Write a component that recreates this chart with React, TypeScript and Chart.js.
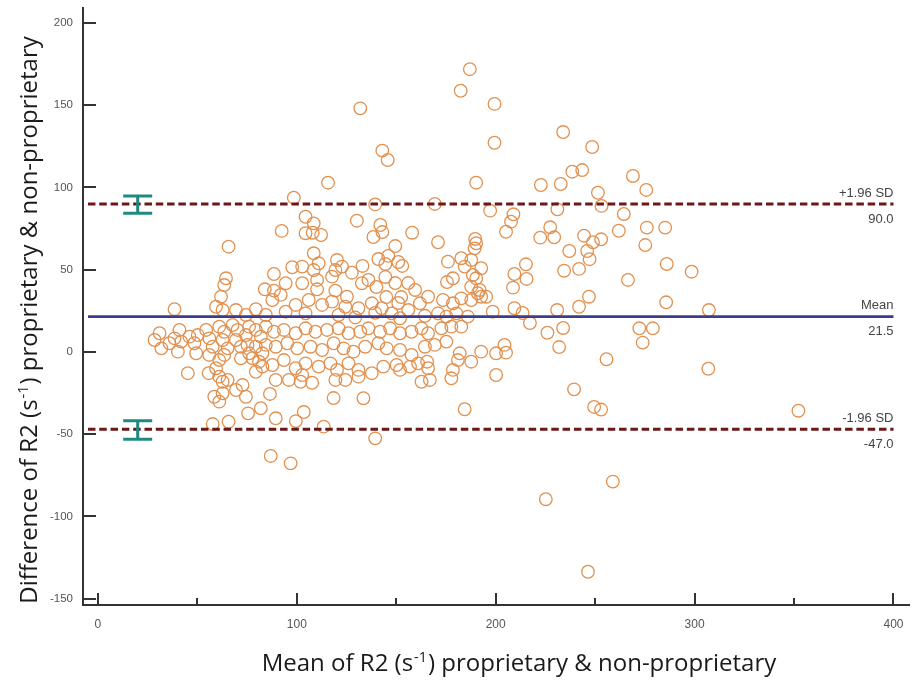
import React, { useEffect, useRef } from "react";
import { Chart, registerables } from "chart.js";

Chart.register(...registerables);

// Mean of the two methods (x) for each sample
const meanValues: number[] = [
  187, 182.4, 199.4, 131.9, 143, 145.7, 199.4, 233.9, 248.5, 190.2, 222.7, 232.7, 238.5, 243.5, 251.4,
  269, 275.7, 115.7, 98.5, 139.4, 169.4, 197.2, 231, 253.2, 264.4, 261.9, 276, 285.2, 275.2, 253,
  286, 298.5, 266.5, 285.7, 307.2, 272.2, 279, 273.9, 255.7, 306.9, 253, 352.2, 258.9, 246.4, 225.2,
  142, 143, 138.5, 158, 171, 189.7, 190.2, 189.4, 208.9, 207.7, 205.2, 222.4, 227.4, 229.4, 244.4,
  248.9, 237, 246, 247.2, 234.4, 241.9, 215.2, 209.4, 215.5, 208.7, 246.9, 241.9, 230.9, 209.4, 213.5,
  217.2, 226, 233.9, 231.9,
  149.5, 146, 151, 153, 141, 144.5, 133,
  176, 182.7, 187.7, 184.4, 192.7, 188.5, 178.5, 175.5, 190.2, 187.7, 191.9, 192.7,
  239.4, 249.5, 184.4, 200.2, 204.4, 200.2, 205.2, 192.7, 187.7, 181.9, 181, 178.5, 177.7,
  166, 173.5, 178.5, 182.7, 187.7, 191, 195.2, 198.5, 186, 180.2, 175.2, 171,
  166, 172.7, 177.7, 182.7, 175.2, 169.4, 165.5, 166.9,
  133.5, 137.7, 131, 151.9, 162.7, 156.9, 139.4,
  104.4, 108.5, 104.4, 108, 112.2, 130.2, 92.4, 65.7, 108.5, 97.7, 102.7, 111, 120.2, 122.7, 127.7,
  88.5, 94.4, 102.7, 110.2, 117.7, 64.4, 63.5, 83.9, 88.5, 91.9, 110.2, 119.4, 125.2, 132.7, 61.9, 38.5,
  119.4, 108.5, 136, 140, 144.5, 149.5, 156, 159.5, 152.5, 145, 151,
  87.7, 99.4, 106, 112.7, 117.7, 124.4, 131, 137.7, 142.7, 147.7, 156, 161.9, 94.4, 104.4, 121, 129.4,
  139.4, 151.9, 164.4,
  88.5, 93.5, 99.4, 104.4, 109.4, 115.2, 121, 126, 131.9, 136, 141.9, 146.9, 151.9, 157.7, 162.7,
  89.4, 95.2, 100.2, 106.9, 112.7, 118.5, 123.5, 128.5, 134.4, 141, 145.2, 151.9, 157.7, 164.4,
  87.7, 93.5, 99.4, 104.4, 111, 116.9, 120.2, 126, 131, 143.5, 150.2, 161, 166,
  89.4, 96, 101.9, 107.7, 119.4, 124.4,
  102.7, 79.4, 82.7, 58.5, 62.7, 72.7, 69.4, 74.4, 57.7, 65.7, 75.5, 81.9, 86.5, 89.4, 99.5, 103.5,
  86.9, 96.9, 113.5, 118.5,
  59.4, 62.7, 69.4, 74.4, 79.4, 84.4, 31, 28.5, 31.9, 36, 41, 38.5, 41.9, 40.2, 46, 50.2, 48.5, 49.4,
  54.4, 56, 57.7, 56, 61, 63.5, 62.7, 65.2, 63.5, 61, 67.7, 70.2, 74.4, 76, 69.4, 71.9, 75.2, 76,
  71.9, 77.7, 79.4, 84.4, 81.9, 84.4, 79.4, 82.7, 81, 45.2, 55.7, 59.4, 61, 62.7, 65.2, 61,
];

// Difference between the two methods (y) for each sample
const diffValues: number[] = [
  171.9, 158.8, 150.8, 148.1, 122.4, 116.7, 127.2, 133.7, 124.6, 102.9, 101.5, 102.1, 109.6, 110.6, 96.8,
  107, 98.5, 102.9, 93.8, 89.7, 90, 85.9, 86.7, 88.8, 83.9, 73.7, 75.6, 75.6, 65, 68.5,
  53.5, 48.8, 43.8, 30.2, 25.5, 14.4, 14.4, 5.7, -4.4, -10.2, -35, -35.7, -78.8, -133.6, -89.5,
  77.2, 72.9, 69.9, 72.5, 66.7, 68.7, 66.1, 63, 83.7, 79.2, 73.1, 69.5, 75.8, 69.7, 70.7,
  66.7, 61.4, 61.4, 56.4, 49.4, 50.5, 53.3, 47.4, 44.4, 39.1, 33.6, 27.5, 25.5, 26.6, 23.7,
  17.6, 11.7, 14.6, 3,
  64.4, 58.4, 54.7, 52.3, 56.5, 53.5, 52.3,
  54.9, 57, 55.9, 51.9, 50.9, 46.8, 44.8, 42.5, 44.8, 39.7, 37.7, 33.6,
  -22.7, -33.4, -34.8, -14, 4.3, -0.8, -0.4, 0.2, -5.9, -0.8, -4.9, -10.9, -16,
  33.6, 31.6, 29.6, 32.6, 31.6, 35.7, 33.6, 24.5, 21.5, 23.5, 21.5, 23.5,
  11.4, 14.4, 15.4, 15.4, 6.3, 4.3, -5.9, -17,
  -28.1, -12.9, -15, -10.9, -18.1, -8.9, -52.5,
  82.2, 78.2, 72.2, 72.5, 71.1, 79.8, 73.6, 64, 60, 51.5, 51.9, 53.9, 55.9, 51.9, 48.2,
  47.4, 41.8, 41.8, 43.8, 45.8, 44.8, 40.7, 38.1, 37.3, 34.7, 38.1, 37.3, 33.6, 41.8, 33.6, 26,
  49.8, 49.8, 43.8, 39.5, 45.6, 41.9, 41.9, 37.7, 33.4, 33.4, 29.8,
  31.6, 28.6, 31.6, 28.6, 30.6, 27.5, 26.6, 29.6, 26.6, 23.5, 25.5, 29.6, 24.5, 23.5, 22.5, 21,
  23.8, 20.5, 22,
  12.3, 13.4, 11.4, 14.4, 12.3, 13.4, 14.4, 11.4, 12.3, 14.4, 12.3, 14.4, 11.4, 12.3, 14.4,
  3.2, 5.3, 2.2, 3.2, 1.2, 5.3, 2.2, 0.2, 3.2, 5.3, 2.2, 1.2, -1.8, 3.2,
  -7.9, -4.9, -9.9, -6.9, -8.9, -6.9, -10.9, -6.9, -10.9, -8.9, -7.9, -6.9, -9.9,
  -17, -17, -18.1, -18.7, -17, -17,
  -14, -12, -8.9, -27.2, -25.1, -20.1, -23.1, -27.2, -43.8, -42.4, -37.3, -34.2, -25.5, -40.3, -42, -36.5,
  -63.2, -67.7, -45.4, -28,
  27.5, 25.5, 25.5, 22.5, 26, 22.5, 11.4, 7.3, 2.2, 5.3, 13.4, 8.3, 6.3, 0.2, 9.3, 10.3, 5.3, -0.8,
  13.4, 8.3, 3.2, -1.8, 15.4, 12.3, 7.3, 2.2, -1.8, -4.9, 16.4, 13.4, 10.3, 15.4, 7.3, 3.2, 4.3, -0.8,
  -3.8, -3.8, 13.4, 15.4, 9.3, 4.3, 3.2, -0.8, -5.9, -12.9, -12.9, -9.9, -15, -18.1, -17, -30.2,
];

// Reference lines
const upperLimit = 90.0;
const meanDifference = 21.5;
const lowerLimit = -47.0;
const limitLineStart = -5;
const limitLineEnd = 400;

// Confidence intervals of the limits of agreement
const ciX = [20, 20];
const ciLow = [84.3, -53.1];
const ciHigh = [94.8, -41.8];

const lineNames = ["+1.96 SD", "Mean", "-1.96 SD"];
const lineValues = [upperLimit, meanDifference, lowerLimit];
const lineValueLabels = ["90.0", "21.5", "-47.0"];

const xMajorTicks = [0, 100, 200, 300, 400];
const xMinorTicks = [50, 150, 250, 350];
const yTicks = [-150, -100, -50, 0, 50, 100, 150, 200];

const xTitle = ["Mean of R2 (s", "-1", ") proprietary & non-proprietary"];
const yTitle = ["Difference of R2 (s", "-1", ") proprietary & non-proprietary"];

const TITLE_FONT = "24px 'Open Sans'";
const SUP_FONT = "14.5px 'Open Sans'";

function drawTitle(ctx: CanvasRenderingContext2D, parts: string[]) {
  ctx.font = TITLE_FONT;
  const w0 = ctx.measureText(parts[0]).width;
  const w2 = ctx.measureText(parts[2]).width;
  ctx.font = SUP_FONT;
  const w1 = ctx.measureText(parts[1]).width;
  const total = w0 + w1 + w2 + 2;
  let x = -total / 2;
  ctx.textAlign = "left";
  ctx.textBaseline = "alphabetic";
  ctx.font = TITLE_FONT;
  ctx.fillText(parts[0], x, 0);
  x += w0 + 1;
  ctx.font = SUP_FONT;
  ctx.fillText(parts[1], x, -9.5);
  x += w1 + 1;
  ctx.font = TITLE_FONT;
  ctx.fillText(parts[2], x, 0);
}

const overlayPlugin = {
  id: "blandAltmanOverlay",
  afterDatasetsDraw(chart: any) {
    const { ctx, scales } = chart;
    const xs = scales.x;
    const ys = scales.y;
    ctx.save();
    // CI error bars
    ctx.strokeStyle = "#1f8a80";
    ctx.lineWidth = 3;
    for (let i = 0; i < ciX.length; i++) {
      const px = xs.getPixelForValue(ciX[i]);
      const top = ys.getPixelForValue(ciHigh[i]);
      const bot = ys.getPixelForValue(ciLow[i]);
      ctx.beginPath();
      ctx.moveTo(px, top);
      ctx.lineTo(px, bot);
      ctx.moveTo(px - 14.5, top);
      ctx.lineTo(px + 14.5, top);
      ctx.moveTo(px - 14.5, bot);
      ctx.lineTo(px + 14.5, bot);
      ctx.stroke();
    }
    // line labels
    ctx.font = "13px 'Liberation Sans'";
    ctx.fillStyle = "#444";
    ctx.textAlign = "right";
    ctx.textBaseline = "middle";
    const lx = xs.getPixelForValue(limitLineEnd);
    for (let i = 0; i < lineValues.length; i++) {
      const py = ys.getPixelForValue(lineValues[i]);
      ctx.fillText(lineNames[i], lx, py - 11);
      ctx.fillText(lineValueLabels[i], lx, py + 15);
    }
    ctx.restore();
  },
  afterDraw(chart: any) {
    const { ctx, scales, chartArea } = chart;
    const xs = scales.x;
    const ys = scales.y;
    ctx.save();
    ctx.strokeStyle = "#333";
    ctx.lineWidth = 2;
    ctx.beginPath();
    for (const v of yTicks) {
      const py = Math.round(ys.getPixelForValue(v));
      ctx.moveTo(chartArea.left, py);
      ctx.lineTo(chartArea.left + 13, py);
    }
    for (const v of xMajorTicks) {
      const px = Math.round(xs.getPixelForValue(v));
      ctx.moveTo(px, chartArea.bottom);
      ctx.lineTo(px, chartArea.bottom - 12);
    }
    for (const v of xMinorTicks) {
      const px = Math.round(xs.getPixelForValue(v));
      ctx.moveTo(px, chartArea.bottom);
      ctx.lineTo(px, chartArea.bottom - 7);
    }
    ctx.stroke();

    ctx.fillStyle = "#1a1a1a";
    ctx.save();
    ctx.translate(519, 671);
    drawTitle(ctx, xTitle);
    ctx.restore();
    ctx.save();
    ctx.translate(37, 320);
    ctx.rotate(-Math.PI / 2);
    drawTitle(ctx, yTitle);
    ctx.restore();
    ctx.restore();
  },
};

export default function App() {
  const canvasRef = useRef<HTMLCanvasElement | null>(null);

  useEffect(() => {
    if (!canvasRef.current) return;
    const points = meanValues.map((m, i) => ({ x: m, y: diffValues[i] }));
    const hLine = (v: number) => [
      { x: limitLineStart, y: v },
      { x: limitLineEnd, y: v },
    ];
    const chart = new Chart(canvasRef.current, {
      type: "scatter",
      data: {
        datasets: [
          {
            type: "line",
            data: hLine(upperLimit),
            borderColor: "#6e1717",
            borderWidth: 3,
            borderDash: [7.5, 3.8],
            pointRadius: 0,
            order: 1,
          },
          {
            type: "line",
            data: hLine(meanDifference),
            borderColor: "#3b3b92",
            borderWidth: 2.6,
            pointRadius: 0,
            order: 1,
          },
          {
            type: "line",
            data: hLine(lowerLimit),
            borderColor: "#6e1717",
            borderWidth: 3,
            borderDash: [7.5, 3.8],
            pointRadius: 0,
            order: 1,
          },
          {
            type: "scatter",
            data: points,
            pointRadius: 6.3,
            pointBorderWidth: 1.3,
            borderColor: "#e2904e",
            backgroundColor: "rgba(255,255,255,0)",
            order: 2,
          },
        ] as any,
      },
      options: {
        responsive: false,
        devicePixelRatio: 1,
        animation: false,
        events: [],
        layout: { padding: { left: 0, top: 8, right: 5, bottom: 0 } },
        plugins: {
          legend: { display: false },
          tooltip: { enabled: false },
        },
        scales: {
          x: {
            type: "linear",
            position: "bottom",
            min: -7.5,
            max: 408,
            grid: { display: false, drawTicks: false },
            border: { display: true, color: "#333", width: 2 },
            ticks: {
              color: "#555",
              font: { family: "'Liberation Sans'", size: 12 },
              padding: 12,
              maxRotation: 0,
              autoSkip: false,
            },
            afterBuildTicks: (s: any) => {
              s.ticks = xMajorTicks.map((v) => ({ value: v }));
            },
            afterFit: (s: any) => {
              s.height = 75;
              s.paddingLeft = 0;
              s.paddingRight = 0;
            },
          },
          y: {
            type: "linear",
            min: -153.8,
            max: 209.1,
            grid: { display: false, drawTicks: false },
            border: { display: true, color: "#333", width: 2 },
            ticks: {
              color: "#555",
              font: { family: "'Liberation Sans'", size: 11.5 },
              padding: 10,
              autoSkip: false,
            },
            afterBuildTicks: (s: any) => {
              s.ticks = yTicks.map((v) => ({ value: v }));
            },
            afterFit: (s: any) => {
              s.width = 83;
              s.paddingTop = 0;
              s.paddingBottom = 0;
            },
          },
        } as any,
      },
      plugins: [overlayPlugin],
    });
    return () => chart.destroy();
  }, []);

  return (
    <div style={{ position: "absolute", left: 0, top: 0, width: 917, height: 680, background: "#fff" }}>
      <canvas ref={canvasRef} width={917} height={680} style={{ display: "block", width: 917, height: 680 }} />
    </div>
  );
}
